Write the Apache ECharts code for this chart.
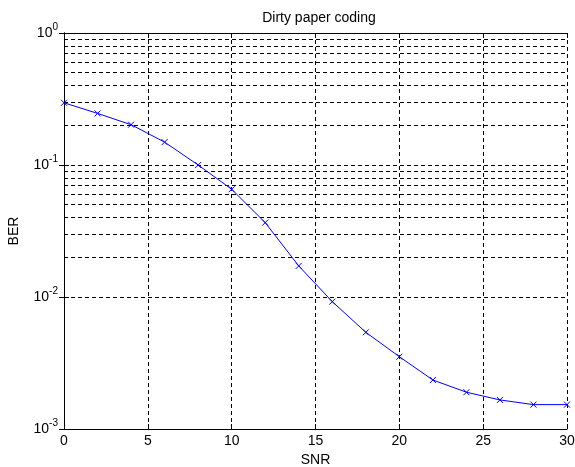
<!DOCTYPE html>
<html><head><meta charset="utf-8">
<script src="https://cdn.jsdelivr.net/npm/echarts@6/dist/echarts.min.js"></script>
<style>html,body{margin:0;padding:0;background:#fff}#c{width:575px;height:467px}</style>
</head><body><div id="c"></div>
<script>
var snr = [0,2,4,6,8,10,12,14,16,18,20,22,24,26,28,30];
var ber = [0.296,0.246,0.202,0.149,0.100,0.0655,0.0366,0.0172,0.00922,0.0054,0.00353,0.00235,0.0019,0.00166,0.00153,0.00153];
var xTicks = [0,5,10,15,20,25,30];
var yDecades = [0.001,0.01,0.1,1];
var minorMult = [2,3,4,5,6,7,8,9];
var title = 'Dirty paper coding';
var xName = 'SNR', yName = 'BER';

var minorVals = [];
yDecades.slice(0,3).forEach(function(d){ minorMult.forEach(function(m){ minorVals.push(+(d*m).toPrecision(3)); }); });

var dash = [4,3];
var chart = echarts.init(document.getElementById('c'));
var font = 'Liberation Sans, Arial, sans-serif';
chart.setOption({
  animation:false,
  backgroundColor:'#fff',
  title:{text:title,left:314,top:6,textAlign:'center',textStyle:{fontFamily:font,fontSize:14,fontWeight:'normal',color:'#000'}},
  grid:{left:64,right:8,top:33,bottom:38,containLabel:false,outerBoundsMode:'none'},
  xAxis:[{
    type:'value',min:0,max:30,interval:5,
    name:xName,nameLocation:'middle',nameGap:23,nameTextStyle:{fontFamily:font,fontSize:14,color:'#000'},
    axisLine:{lineStyle:{color:'#000',width:1}},
    axisTick:{inside:true,length:5,lineStyle:{color:'#000'}},
    axisLabel:{fontFamily:font,fontSize:14,color:'#000',margin:5},
    splitLine:{show:true,lineStyle:{color:'#000',type:dash,width:1}}
  },{
    type:'value',min:0,max:30,interval:5,position:'top',
    axisLine:{show:true,lineStyle:{color:'#000',width:1}},
    axisTick:{inside:true,length:5,lineStyle:{color:'#000'}},
    axisLabel:{show:false},splitLine:{show:false}
  }],
  yAxis:[{
    type:'log',logBase:10,min:0.001,max:1,
    name:yName,nameLocation:'middle',nameGap:43,nameRotate:90,nameTextStyle:{fontFamily:font,fontSize:14,color:'#000'},
    axisLine:{show:true,lineStyle:{color:'#000',width:1}},
    axisTick:{inside:true,length:5,lineStyle:{color:'#000'}},
    axisLabel:{margin:6,formatter:function(v){var e=Math.round(Math.log10(v));return '{b|10}{s|'+e+'}';},
      rich:{b:{fontFamily:font,fontSize:14,color:'#000'},s:{fontFamily:font,fontSize:10,color:'#000',padding:[0,0,11,0]}}},
    splitLine:{show:true,lineStyle:{color:'#000',type:dash,width:1}}
  },{
    type:'log',logBase:10,min:0.001,max:1,position:'right',
    axisLine:{show:true,lineStyle:{color:'#000',width:1}},
    axisTick:{inside:true,length:5,lineStyle:{color:'#000'}},
    axisLabel:{show:false},splitLine:{show:false}
  }],
  series:[{
    type:'line',
    data:snr.map(function(x,i){return [x,ber[i]];}),
    symbol:'path://M0,0L10,10M10,0L0,10',
    symbolSize:6,
    showAllSymbol:true,
    lineStyle:{color:'#0000ff',width:1},
    itemStyle:{color:'transparent',borderColor:'#0000ff',borderWidth:1},
    z:5,
    markLine:{
      silent:true,symbol:'none',animation:false,
      label:{show:false},
      lineStyle:{color:'#000',type:dash,width:1},
      data:minorVals.map(function(v){return {yAxis:v};})
    }
  }]
});
</script></body></html>
